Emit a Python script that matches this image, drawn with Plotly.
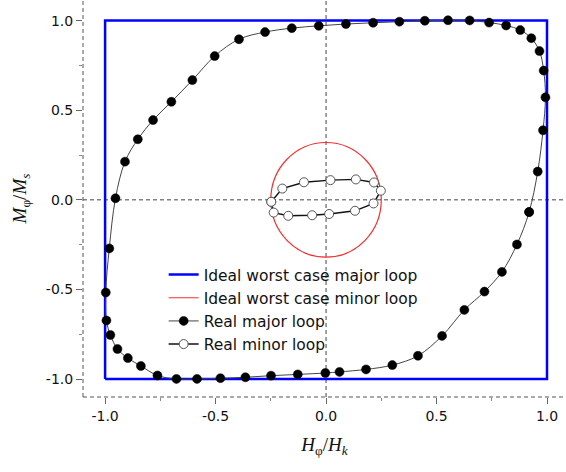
import plotly.graph_objects as go

# ---- data ----
ideal_major_h = [-1.0, -1.0, 1.0, 1.0, -1.0]
ideal_major_m = [-1.0, 1.0, 1.0, -1.0, -1.0]

ideal_minor_h_radius = 0.25
ideal_minor_m_radius = 0.32

major_h = [0.919, 0.958, 0.982, 0.993, 0.985, 0.966, 0.929, 0.879, 0.815, 0.738,
           0.650, 0.552, 0.447, 0.332, 0.213, 0.090, -0.033, -0.155, -0.276, -0.394,
           -0.504, -0.605, -0.700, -0.783, -0.852, -0.910, -0.953, -0.981, -0.997, -0.994,
           -0.976, -0.944, -0.897, -0.838, -0.763, -0.677, -0.584, -0.478, -0.365, -0.249,
           -0.128, -0.003, 0.061, 0.181, 0.300, 0.416, 0.525, 0.626, 0.717, 0.796,
           0.864, 0.919]
major_m = [-0.068, 0.158, 0.388, 0.572, 0.721, 0.830, 0.902, 0.947, 0.973, 0.989,
           1.001, 1.002, 0.999, 0.994, 0.988, 0.981, 0.971, 0.958, 0.936, 0.896,
           0.802, 0.668, 0.547, 0.445, 0.338, 0.213, 0.009, -0.271, -0.517, -0.673,
           -0.754, -0.832, -0.883, -0.927, -0.980, -0.999, -0.999, -0.995, -0.990, -0.981,
           -0.974, -0.966, -0.960, -0.946, -0.922, -0.870, -0.759, -0.614, -0.512, -0.402,
           -0.249, -0.068]

minor_h = [-0.248, -0.198, -0.100, 0.020, 0.135, 0.217, 0.248, 0.215, 0.131, 0.014,
           -0.063, -0.171, -0.237, -0.248]
minor_m = [-0.011, 0.063, 0.098, 0.110, 0.114, 0.097, 0.051, -0.020, -0.061, -0.079,
           -0.086, -0.089, -0.071, -0.011]

tick_vals = [-1.0, -0.5, 0.0, 0.5, 1.0]
tick_text = ["-1.0", "-0.5", "0.0", "0.5", "1.0"]

names = ["Ideal worst case major loop", "Ideal worst case minor loop",
         "Real major loop", "Real minor loop"]

# ---- figure ----
fig = go.Figure()

fig.add_trace(go.Scatter(x=ideal_major_h, y=ideal_major_m, mode="lines",
                         line=dict(color="#0000ff", width=2.5), name=names[0]))
fig.add_trace(go.Scatter(x=[None], y=[None], mode="lines",
                         line=dict(color="#f03030", width=1.2), name=names[1]))
fig.add_trace(go.Scatter(x=major_h, y=major_m, mode="lines+markers",
                         line=dict(color="#444444", width=1, shape="spline", smoothing=1),
                         marker=dict(symbol="circle", size=9, color="black",
                                     line=dict(color="black", width=0.5)),
                         name=names[2]))
fig.add_trace(go.Scatter(x=minor_h, y=minor_m, mode="lines+markers",
                         line=dict(color="#111111", width=1.4),
                         marker=dict(symbol="circle", size=9, color="white",
                                     line=dict(color="#555555", width=1)),
                         name=names[3]))

shapes = [
    # ideal minor loop (circle)
    dict(type="circle", xref="x", yref="y",
         x0=-ideal_minor_h_radius, x1=ideal_minor_h_radius,
         y0=-ideal_minor_m_radius, y1=ideal_minor_m_radius,
         line=dict(color="#f03030", width=1.2), layer="below"),
    # zero lines
    dict(type="line", xref="x", yref="paper", x0=0, x1=0, y0=0, y1=1,
         line=dict(color="#444444", width=1, dash="4px,3px"), layer="below"),
    dict(type="line", xref="paper", yref="y", x0=0, x1=1, y0=0, y1=0,
         line=dict(color="#444444", width=1, dash="4px,3px"), layer="below"),
    # dashed axis lines
    dict(type="line", xref="paper", yref="paper", x0=0, x1=0, y0=0, y1=1,
         line=dict(color="#555555", width=1, dash="4px,3px")),
    dict(type="line", xref="paper", yref="paper", x0=0, x1=1, y0=0, y1=0,
         line=dict(color="#555555", width=1, dash="4px,3px")),
]

axis_common = dict(
    showgrid=False, zeroline=False, showline=False, automargin=False,
    tickmode="array", tickvals=tick_vals, ticktext=tick_text,
    ticks="outside", ticklen=6, tickwidth=1, tickcolor="#666666",
    tickfont=dict(family="DejaVu Sans", size=14, color="#111111"),
    minor=dict(tickmode="linear", tick0=0, dtick=0.25, ticks="outside",
               ticklen=3, tickcolor="#888888", tickwidth=1, showgrid=False),
)

fig.update_layout(
    width=566, height=472,
    margin=dict(l=83, r=0, t=0, b=75, autoexpand=False),
    paper_bgcolor="white", plot_bgcolor="white",
    shapes=shapes,
    showlegend=True,
    legend=dict(x=0.167, y=0.35, xanchor="left", yanchor="top",
                bgcolor="rgba(0,0,0,0)", borderwidth=0,
                font=dict(family="DejaVu Sans", size=15.5, color="#111111"),
                tracegroupgap=0),
    xaxis=dict(range=[-1.1, 1.086],
               title=dict(text="<i>H</i><sub>φ</sub>/<i>H</i><sub><i>k</i></sub>",
                          font=dict(family="Liberation Serif", size=19, color="#111111"),
                          standoff=14),
               **axis_common),
    yaxis=dict(range=[-1.1, 1.115],
               title=dict(text="<i>M</i><sub>φ</sub>/<i>M</i><sub><i>s</i></sub>",
                          font=dict(family="Liberation Serif", size=19, color="#111111"),
                          standoff=14),
               **axis_common),
)

fig.write_html("out.html",
               config={"displayModeBar": False},
               post_script="document.body.style.margin='0';document.body.style.overflow='hidden';")
